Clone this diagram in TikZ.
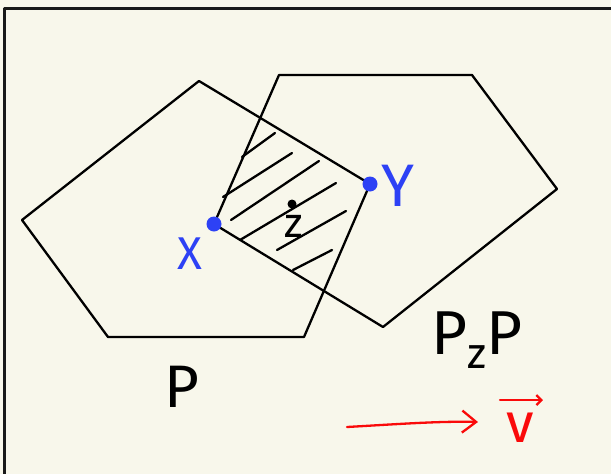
\documentclass[tikz,border=0pt]{standalone}
\usepackage{fontspec}
\setmainfont{Fira Sans}
\usetikzlibrary{arrows.meta, positioning, calc}
\definecolor{paper}{RGB}{248,247,235}
\definecolor{penblue}{RGB}{45,65,245}
\definecolor{penred}{RGB}{250,10,10}

\begin{document}
\begin{tikzpicture}[x=1pt, y=-1pt, line cap=round, line join=round,
    pen/.style={line width=2.3pt},
    vertex/.style={circle, fill=penblue, inner sep=0pt, minimum size=15pt},
    hand/.style={inner sep=0pt, font=\fontsize{#1}{#1}\selectfont}]
  % Paper and frame
  \fill[paper] (0,0) rectangle (611,474);
  \useasboundingbox (0,0) rectangle (611,474);
  \draw[line width=2.8pt, black!90] (4.7,480) -- (4.7,8.7) -- (620,8.7);

  % Pentagon P
  \coordinate (pTop) at (199,81);
  \coordinate (pRight) at (370,184);
  \coordinate (pBotR) at (304,337);
  \coordinate (pBotL) at (108,337);
  \coordinate (pLeft) at (22,220);
  \draw[pen] (pTop) -- (pRight) -- (pBotR) -- (pBotL) -- (pLeft) -- cycle;

  % Pentagon P_z P
  \coordinate (qLeft) at (214,224);
  \coordinate (qTopL) at (279,75);
  \coordinate (qTopR) at (472,75);
  \coordinate (qRight) at (557,189);
  \coordinate (qBot) at (383,327);
  \draw[pen] (qLeft) -- (qTopL) -- (qTopR) -- (qRight) -- (qBot) -- cycle;

  % Hatching of the overlap
  \foreach \a/\b in {{242,157}/{275,133}, {223,197}/{292,153},
                     {231,220}/{319,161}, {240,240}/{336,183},
                     {277,250}/{346,211}, {293,270}/{332,250}}
    \draw[pen] (\a) -- (\b);

  % Points
  \node[vertex] (X) at (qLeft) {};
  \node[vertex] (Y) at (pRight) {};
  \node[circle, fill, inner sep=0pt, minimum size=9pt] (z) at ($(X)!0.5!(Y)$) {};

  % Labels
  \node[hand=46, text=penblue] (labX) at (190,254) {X};
  \node[hand=60, text=penblue] (labY) at (398,186) {Y};
  \node[hand=42] (labZ) at (294,226) {z};
  \node[hand=60] (labP) at (182,387) {P};
  \node[hand=62] (labPzP) at (477,340) {P\textsubscript{z}P};

  % Translation vector
  \coordinate (vTail) at (347,427);
  \coordinate (vHead) at (478,422);
  \draw[pen, penred, -{Straight Barb[length=14pt, width=22pt]}]
    (vTail) .. controls (400,424) and (440,421) .. (vHead);
  \node[hand=56, text=penred] (labV) at (520,428) {v};
  \draw[pen, penred, -{Straight Barb[length=5pt, width=10pt]}]
    ([xshift=-6pt, yshift=13pt]labV.north west) -- ([xshift=9pt, yshift=13pt]labV.north east);
\end{tikzpicture}
\end{document}
